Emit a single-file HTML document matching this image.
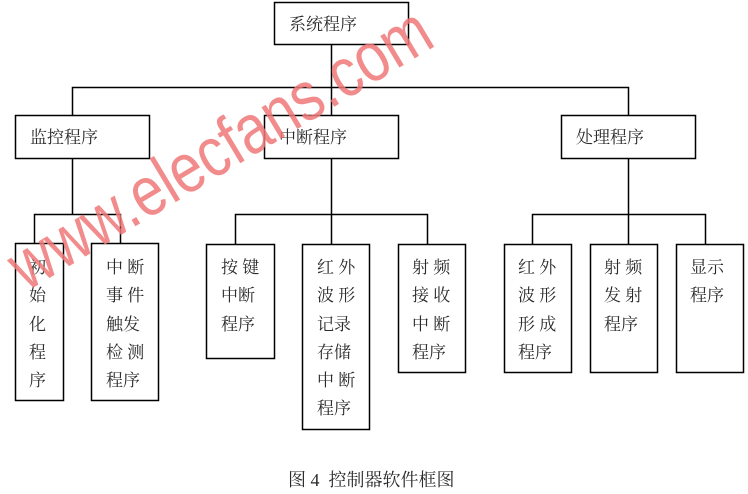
<!DOCTYPE html>
<html><head><meta charset="utf-8"><style>
html,body{margin:0;padding:0;background:#fff;}
svg{display:block;}
text{font-family:"Liberation Serif","Noto Serif CJK SC","Noto Sans CJK SC",serif;font-size:17px;fill:#2a2a2a;}
</style></head><body>
<svg width="748" height="494" viewBox="0 0 748 494" xmlns="http://www.w3.org/2000/svg">
<g fill="none" stroke="#000" stroke-width="1.5">
<rect x="274.5" y="2.5" width="134" height="42"/>
<rect x="15.5" y="115.5" width="134" height="43"/>
<rect x="264.5" y="115.5" width="134" height="43"/>
<rect x="561.5" y="115.5" width="134" height="43"/>
<rect x="15.5" y="243.5" width="48" height="157"/>
<rect x="91.5" y="243.5" width="67" height="157"/>
<rect x="206.5" y="244.5" width="68" height="114"/>
<rect x="302.5" y="244.5" width="67" height="185"/>
<rect x="398.5" y="244.5" width="67" height="128"/>
<rect x="504.5" y="244.5" width="67" height="128"/>
<rect x="590.5" y="244.5" width="67" height="128"/>
<rect x="676.5" y="244.5" width="67" height="128"/>
<path d="M331.5 44.5V115.5M72.5 115.5V87.5H628.5V115.5"/>
<path d="M72.5 158.5V214.5M34.5 243.5V214.5H120.5V243.5"/>
<path d="M331.5 158.5V244.5M235.5 244.5V214.5H427.5V244.5"/>
<path d="M628.5 158.5V244.5M532.5 244.5V214.5H705.5V244.5"/>
</g>
<text x="289" y="30">系统程序</text>
<text x="30" y="143">监控程序</text>
<text x="279" y="143">中断程序</text>
<text x="576" y="143">处理程序</text>
<g>
<text x="29" y="273">初</text><text x="29" y="301">始</text><text x="29" y="330">化</text><text x="29" y="358">程</text><text x="29" y="386">序</text>
<text x="106" y="273">中 断</text><text x="106" y="301">事 件</text><text x="106" y="330">触发</text><text x="106" y="358">检 测</text><text x="106" y="386">程序</text>
<text x="221" y="273">按 键</text><text x="221" y="301">中断</text><text x="221" y="330">程序</text>
<text x="317" y="273">红 外</text><text x="317" y="301">波 形</text><text x="317" y="330">记录</text><text x="317" y="358">存储</text><text x="317" y="386">中 断</text><text x="317" y="414">程序</text>
<text x="412" y="273">射 频</text><text x="412" y="301">接 收</text><text x="412" y="330">中 断</text><text x="412" y="358">程序</text>
<text x="518" y="273">红 外</text><text x="518" y="301">波 形</text><text x="518" y="330">形 成</text><text x="518" y="358">程序</text>
<text x="604" y="273">射 频</text><text x="604" y="301">发 射</text><text x="604" y="330">程序</text>
<text x="690" y="273">显示</text><text x="690" y="301">程序</text>
</g>
<text x="288" y="486" xml:space="preserve" style="font-size:18px;white-space:pre">图 4  控制器软件框图</text>
<text x="0" y="0" transform="translate(26,292) rotate(-31)" textLength="480" lengthAdjust="spacingAndGlyphs" style="font-family:'Liberation Sans',sans-serif;font-size:70px;fill:#f07878;opacity:0.85">www.elecfans.com</text>
</svg>
</body></html>
